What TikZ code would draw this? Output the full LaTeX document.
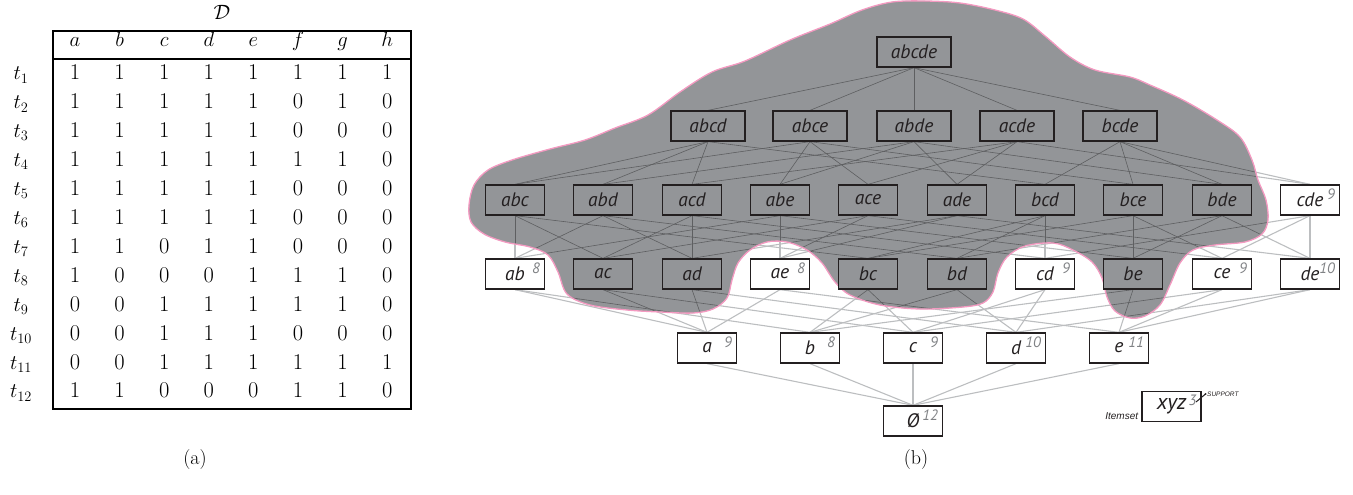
\documentclass[tikz,border=0pt]{standalone}
\usepackage{fontspec}
\newfontfamily\setfont{PT Sans}
\newfontfamily\legendfont{Liberation Sans}
\usetikzlibrary{calc}

\definecolor{ink}{HTML}{231F20}
\definecolor{blobgray}{HTML}{939598}
\definecolor{edgelight}{HTML}{BCBEC0}
\definecolor{edgedark}{HTML}{5E5F61}
\definecolor{supgray}{HTML}{808285}
\definecolor{blobline}{HTML}{F49AC1}

\pgfdeclarelayer{blobfill}
\pgfdeclarelayer{edges}
\pgfdeclarelayer{outline}
\pgfsetlayers{blobfill,edges,outline,main}

\tikzset{
  itemset/.style={draw=ink, line width=1.3pt, fill=white, minimum height=30pt,
    minimum width=59pt, inner sep=0pt, text=ink,
    font=\setfont\itshape\fontsize{19.5}{19.5}\selectfont},
  wide/.style={minimum width=74pt},
  frequent/.style={fill=blobgray},
  supnum/.style={font=\setfont\itshape\fontsize{15}{15}\selectfont, text=supgray,
    inner sep=0pt, anchor=north east},
  hasse/.style={draw=edgelight, line width=1.1pt},
  hassein/.style={draw=edgedark, line width=0.6pt},
  cell/.style={inner sep=0pt, anchor=base, font=\fontsize{22.5}{26}\selectfont},
}

% region of the frequent itemsets
\newcommand\blobshape{plot[smooth cycle, tension=0.55] coordinates {
 (469,205) (474,185) (488,170) (512,160) (550,149) (585,140) (615,128) (648,115)
 (680,92) (712,72) (745,61) (790,40) (830,24) (862,10) (892,2) (925,1) (960,3)
 (995,10) (1023,19) (1045,36) (1070,57) (1095,70) (1130,77) (1150,85) (1183,100)
 (1217,120) (1240,137) (1252,160) (1258,180) (1266,200) (1268,220) (1262,234)
 (1245,242) (1215,245) (1193,250) (1180,263) (1170,285) (1160,305) (1145,316)
 (1130,318) (1115,311) (1107,297) (1102,278) (1092,262) (1073,250) (1053,243)
 (1025,246) (1007,257) (998,273) (993,292) (983,303) (963,307) (920,309)
 (880,305) (850,295) (835,282) (822,263) (807,250) (787,242) (767,242)
 (750,250) (738,263) (732,280) (727,298) (713,309) (693,313) (660,312)
 (627,310) (590,305) (567,294) (558,272) (548,255) (530,247) (505,242)
 (484,234) (471,222)}}

\newcommand\hasseedges{abcde/abcd,abcde/abce,abcde/abde,abcde/acde,abcde/bcde,
 abcd/abc,abcd/abd,abcd/acd,abcd/bcd, abce/abc,abce/abe,abce/ace,abce/bce,
 abde/abd,abde/abe,abde/ade,abde/bde, acde/acd,acde/ace,acde/ade,acde/cde,
 bcde/bcd,bcde/bce,bcde/bde,bcde/cde,
 abc/ab,abc/ac,abc/bc, abd/ab,abd/ad,abd/bd, acd/ac,acd/ad,acd/cd,
 abe/ab,abe/ae,abe/be, ace/ac,ace/ae,ace/ce, ade/ad,ade/ae,ade/de,
 bcd/bc,bcd/bd,bcd/cd, bce/bc,bce/be,bce/ce, bde/bd,bde/be,bde/de,
 cde/cd,cde/ce,cde/de,
 ab/a,ab/b, ac/a,ac/c, ad/a,ad/d, ae/a,ae/e, bc/b,bc/c, bd/b,bd/d,
 cd/c,cd/d, be/b,be/e, ce/c,ce/e, de/d,de/e,
 a/empty,b/empty,c/empty,d/empty,e/empty}

\begin{document}
\begin{tikzpicture}[x=1pt,y=-1pt]
\useasboundingbox (0,0) rectangle (1353,495);

% ---------- (a) transaction table ----------
\node[cell] (dbname) at (222,20) {$\mathcal{D}$};
\foreach \c [count=\j] in {a,b,c,d,e,f,g,h}
  \node[cell] (h\j) at ({75+44.6*(\j-1)},47) {$\c$};
\foreach \row [count=\i] in {
  {1,1,1,1,1,1,1,1},{1,1,1,1,1,0,1,0},{1,1,1,1,1,0,0,0},{1,1,1,1,1,1,1,0},
  {1,1,1,1,1,0,0,0},{1,1,1,1,1,0,0,0},{1,1,0,1,1,0,0,0},{1,0,0,0,1,1,1,0},
  {0,0,1,1,1,1,1,0},{0,0,1,1,1,0,0,0},{0,0,1,1,1,1,1,1},{1,1,0,0,0,1,1,0}} {
  \node[cell] (t\i) at (21,{80+28.9*(\i-1)}) {$t_{\i}$};
  \foreach \v [count=\j] in \row
    \node[cell] (v\i-\j) at ({75+44.6*(\j-1)},{80+28.9*(\i-1)}) {\v};
}
\draw[line width=2.2pt] (53,31) rectangle (411,409);
\draw[line width=1.8pt] (53,59) -- (411,59);
\node[font=\fontsize{20}{24}\selectfont] (capa) at (195,460) {(a)};

% ---------- (b) itemset lattice ----------
\node[itemset,wide,frequent] (abcde) at (914,52) {abcde};

\foreach \n/\x in {abcd/708,abce/810,abde/914,acde/1017,bcde/1120}
  \node[itemset,wide,frequent] (\n) at (\x,126) {\n};

\foreach \n/\x in {abc/515,abd/603,acd/692,abe/780,ace/868,ade/957,bcd/1045,bce/1133,bde/1222}
  \node[itemset,frequent] (\n) at (\x,200) {\n};
\node[itemset] (cde) at (1310,200) {cde};

\foreach \n/\x in {ac/603,ad/692,bc/868,bd/957,be/1133}
  \node[itemset,frequent] (\n) at (\x,274) {\n};
\foreach \n/\x in {ab/515,ae/780,cd/1045,ce/1222,de/1310}
  \node[itemset] (\n) at (\x,274) {\n};

\foreach \n/\x in {a/707,b/810,c/913,d/1016,e/1119}
  \node[itemset] (\n) at (\x,348) {\n};
\node[itemset] (empty) at (913,421) {Ø};

% supports of the infrequent itemsets
\foreach \n/\s in {cde/9,ab/8,ae/8,cd/9,ce/9,de/10,a/9,b/8,c/9,d/10,e/11,empty/12}
  \node[supnum] (s-\n) at ([xshift=-5pt,yshift=-4pt]\n.north east) {\s};

% legend
\node[itemset,font=\setfont\itshape\fontsize{22}{22}\selectfont] (xyz) at (1171.5,406.5) {xyz\hspace{6pt}};
\node[supnum] (s-xyz) at ([xshift=-5pt,yshift=-4pt]xyz.north east) {3};
\node[anchor=base east, inner sep=0pt, font=\legendfont\itshape\fontsize{10}{10}\selectfont,
  text=ink] (itemsetlbl) at ([xshift=-3pt,yshift=3pt]xyz.south west) {Itemset};
\node[anchor=west, inner sep=0pt, font=\legendfont\itshape\fontsize{6.5}{6.5}\selectfont,
  text=ink] (support) at (1207,394) {SUPPORT};
\coordinate (suptip) at (1196,402);
\draw[ink, line width=1pt] (suptip) -- ([xshift=-1.5pt]support.west);
\fill[ink] ([xshift=-1.5pt]support.west) circle (1pt);

\node[font=\fontsize{20}{24}\selectfont] (capb) at (916,460) {(b)};

% shaded region, edges under and over it, and its border
\begin{pgfonlayer}{blobfill}
  \fill[blobgray] \blobshape;
\end{pgfonlayer}
\begin{pgfonlayer}{edges}
  \foreach \u/\l in \hasseedges \draw[hasse] (\u.south) -- (\l.north);
  \begin{scope}
    \clip \blobshape;
    \fill[blobgray] \blobshape;
    \foreach \u/\l in \hasseedges \draw[hassein] (\u.south) -- (\l.north);
  \end{scope}
\end{pgfonlayer}
\begin{pgfonlayer}{outline}
  \draw[blobline, line width=1.3pt] \blobshape;
\end{pgfonlayer}
\end{tikzpicture}
\end{document}
